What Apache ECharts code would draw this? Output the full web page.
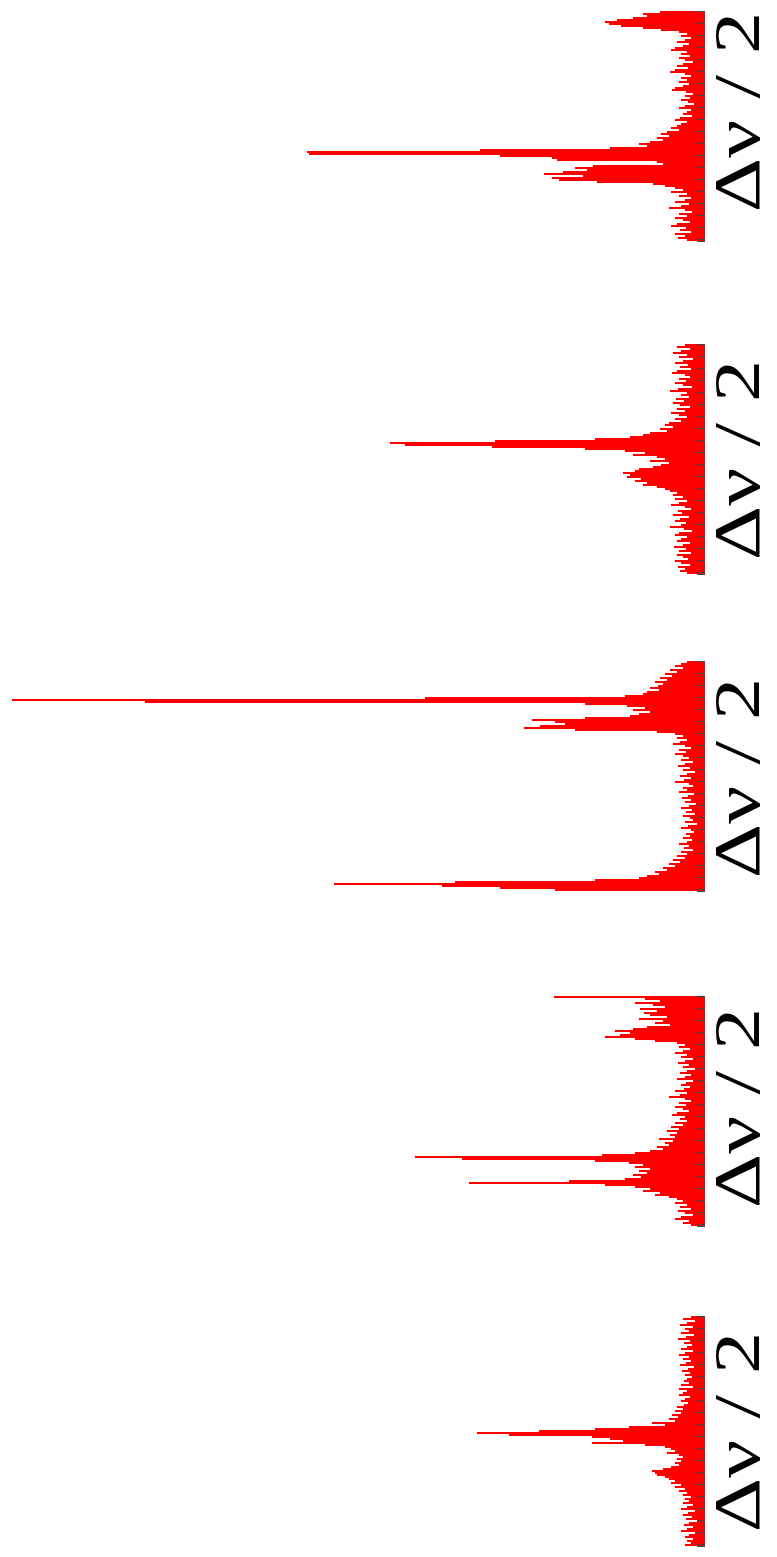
<!DOCTYPE html>
<html><head><meta charset="utf-8">
<script src="https://cdn.jsdelivr.net/npm/echarts@6/dist/echarts.min.js"></script>
<style>html,body{margin:0;padding:0;background:#fff}#c{width:777px;height:1557px}</style>
</head><body><div id="c"></div>
<script>
// Intensity (arbitrary units) along the frequency bins of each of the five spectra, top to bottom
const panel1 = [45,62,58,72,88,100,96,84,62,44,26,18,24,14,20,28,16,22,30,34,18,24,15,26,20,12,22,28,17,30,35,20,14,24,18,26,16,22,30,33,19,12,20,15,24,17,11,20,26,14,18,22,13,25,30,18,24,28,34,26,38,44,36,48,42,55,66,58,95,225,398,396,205,153,148,48,42,112,130,118,142,161,122,153,146,108,52,40,30,22,34,18,26,14,20,30,16,24,36,20,13,26,18,30,22,15,28,34,19,25,14,30,20,27,18];
const panel2 = [20,28,15,24,32,18,26,12,22,30,17,25,14,28,33,20,15,26,19,30,22,13,27,35,18,24,16,29,21,32,25,15,28,20,34,26,18,30,24,36,40,32,45,38,55,62,75,110,210,315,300,213,120,80,60,72,48,40,55,36,44,52,66,70,82,75,78,64,70,58,62,48,40,35,28,32,22,30,18,26,34,20,14,27,23,32,16,25,30,19,24,35,21,13,26,30,18,24,28,15,22,31,19,26,14,28,22,17,30,24,15,27,20,25,18];
const panel3 = [18,24,30,22,35,28,40,33,45,38,50,42,47,55,46,58,62,80,280,693,560,120,78,60,72,55,66,75,120,173,150,140,165,181,130,48,30,22,28,18,25,32,20,14,26,19,30,22,16,24,12,20,27,15,22,10,18,25,14,21,30,16,12,22,18,26,11,17,23,14,20,9,16,24,13,19,10,22,15,12,20,8,17,24,14,11,19,15,22,13,18,26,16,21,12,24,18,28,20,32,25,36,30,42,38,50,46,58,66,110,250,371,263,205,150];
const panel4 = [151,60,45,70,52,40,65,48,61,55,38,66,42,50,35,58,72,90,75,85,100,70,50,28,20,26,15,22,30,18,24,12,20,27,16,22,10,18,25,14,20,28,12,19,24,15,21,30,18,25,36,20,14,26,19,30,22,16,28,33,20,25,18,30,22,34,26,38,28,35,30,46,32,40,36,48,42,55,70,103,290,243,110,76,62,70,55,66,58,72,64,80,136,236,100,70,55,62,45,50,36,28,22,30,18,25,14,27,20,12,24,30,16,22,14];
const panel5 = [14,22,10,18,25,12,20,16,24,11,19,27,15,21,13,18,24,12,20,26,16,22,14,19,25,11,17,23,15,20,13,18,21,16,24,12,26,18,22,26,15,20,24,17,21,28,22,30,24,33,27,36,30,53,40,76,110,166,228,196,113,95,82,113,60,40,34,30,38,26,22,28,24,30,26,34,42,53,50,48,40,36,30,34,24,30,20,26,18,22,14,20,16,22,12,18,24,10,17,22,13,19,8,16,21,12,18,24,10,16,20,12,18,14,20];
const spectra = [panel1, panel2, panel3, panel4, panel5];
const axisLabelText = 'Δν / 2';

// layout (pixels)
const panelTops = [12, 345, 662, 997, 1317];
const labelCentersY = [112, 460, 778, 1108, 1432];
const BIN = 2;

const chart = echarts.init(document.getElementById('c'), null, {renderer: 'canvas'});
const grids = [], xAxes = [], yAxes = [], series = [], graphics = [];
spectra.forEach((vals, i) => {
  const bins = vals.map((_, k) => String(k));
  grids.push({left: 5, right: 72, top: panelTops[i] - BIN / 2, height: vals.length * BIN, containLabel: false});
  xAxes.push({type: 'value', gridIndex: i, min: 0, max: 700, inverse: true, show: false});
  yAxes.push({
    type: 'category', gridIndex: i, data: bins, inverse: true, position: 'right', z: 5,
    axisLine: {show: false},
    axisTick: {show: true, inside: true, length: 8, interval: 5, lineStyle: {color: '#444', width: 1}},
    axisLabel: {show: false}, splitLine: {show: false}
  });
  series.push({
    type: 'bar', xAxisIndex: i, yAxisIndex: i, data: vals,
    barCategoryGap: '0%', itemStyle: {color: '#ff0000'}, silent: true
  });
  graphics.push({
    type: 'text', x: 742, y: labelCentersY[i], rotation: Math.PI / 2, scaleX: 1.28,
    style: {text: axisLabelText, font: '66px "Liberation Serif", serif', fill: '#000', textAlign: 'center', textVerticalAlign: 'middle'}
  });
});
chart.setOption({
  animation: false,
  grid: grids, xAxis: xAxes, yAxis: yAxes, series: series, graphic: graphics
});
</script>
</body></html>
